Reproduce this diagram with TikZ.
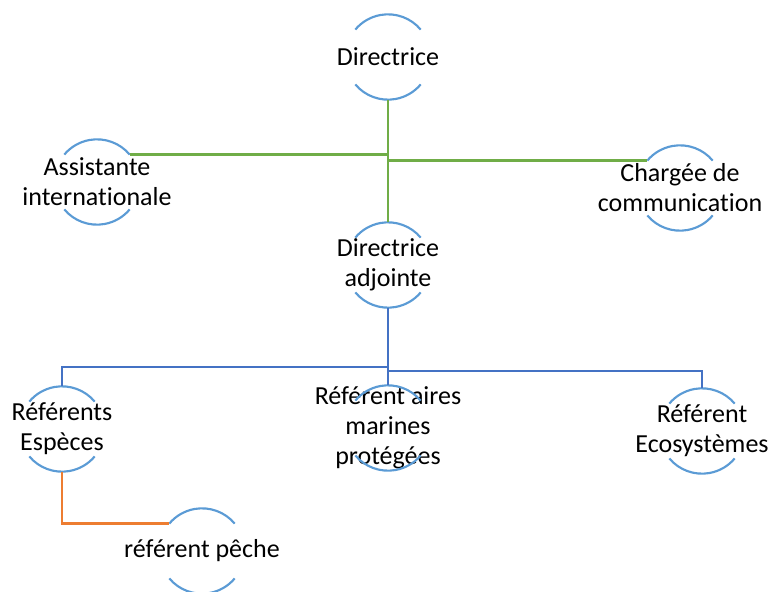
\documentclass[tikz,border=0pt]{standalone}
\usepackage{fontspec}
\setmainfont{Carlito}[Ligatures=NoCommon]
\definecolor{ringcol}{HTML}{5B9BD5}
\definecolor{dircol}{HTML}{70AD47}
\definecolor{refcol}{HTML}{4472C4}
\definecolor{pechecol}{HTML}{ED7D31}
\tikzset{bubble/.style={circle, minimum size=64pt, inner sep=0pt, outer sep=0pt},
	txt/.style={align=center, inner sep=0pt, font=\fontsize{19.5}{22.5}\selectfont},
	link/.style={line width=1.8pt}}

\begin{document}
\begin{tikzpicture}[x=0.75pt, y=-0.75pt]
	\useasboundingbox (0,0) rectangle (774,592);
	
			\pgfmathsetmacro\rr{32};
			% nodes
			\node[bubble, label={[txt]center:Directrice}] (dir) at (388,57) {};
			\node[bubble, label={[txt]center:{Assistante\\internationale}}] (ass) at (97,182) {};
			\node[bubble, label={[txt]center:{Chargée de\\communication}}] (chg) at (680,188) {};
			\node[bubble, label={[txt]center:{Directrice\\adjointe}}] (adj) at (388,265) {};
			\node[bubble, label={[txt]center:{Référents\\Espèces}}] (esp) at (62,429) {};
			\node[bubble, label={[txt]center:{Référent aires\\marines\\protégées}}] (aires) at (388,428) {};
			\node[bubble, label={[txt]center:{Référent\\Ecosystèmes}}] (eco) at (702,431) {};
			\node[bubble, label={[txt]center:référent pêche}] (peche) at (202,551) {};
	
			% rings
			\foreach \n in {dir,ass,chg,adj,esp,aires,eco,peche} {
				\draw[ringcol, line width=1.6pt] (\n.40) arc[start angle=40, end angle=140, radius=\rr pt];
				\draw[ringcol, line width=1.6pt] (\n.220) arc[start angle=220, end angle=320, radius=\rr pt];
			}
			
			% links
			\coordinate (busL) at (388,367);
			\coordinate (busR) at (388,371);
			\draw[link, dircol] (dir.south) -- (adj.north);
			\draw[link, dircol] (ass.40) -| (dir.south);
			\draw[link, dircol] (chg.140) -| (dir.south);
			\draw[link, refcol] (adj.south) -- (aires.north);
			\draw[link, refcol] (busL) -| (esp.north);
			\draw[link, refcol] (busR) -| (eco.north);
			\draw[link, pechecol] (esp.south) |- (peche.140);
		\end{tikzpicture}
\end{document}
